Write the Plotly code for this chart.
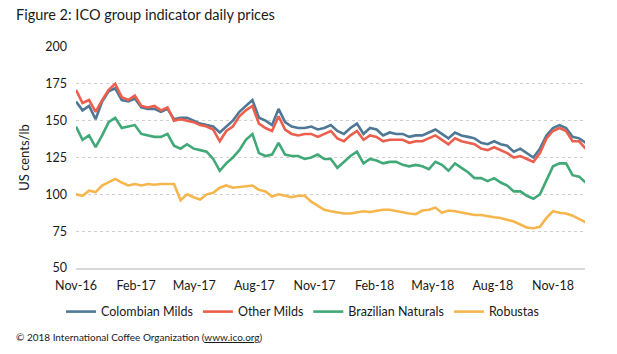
import pandas as pd
import plotly.graph_objects as go

# sample dates (every 10 days from Nov 2016)
dates = pd.date_range("2016-11-01", periods=79, freq="10D")

colombian_milds = [163, 157, 160, 151, 163, 170, 172, 164, 163, 165, 159, 158, 158, 156, 158, 151,
                   152, 152, 150, 148, 147, 146, 142, 146, 150, 156, 160, 164, 152, 150, 147, 158,
                   149, 146, 145, 145, 146, 144, 145, 147, 143, 141, 145, 148, 141, 145, 144, 140,
                   142, 141, 141, 139, 140, 140, 142, 144, 141, 138, 142, 140, 139, 138, 135, 134,
                   136, 134, 133, 129, 131, 128, 125, 131, 140, 145, 147, 145, 139, 138, 135]
other_milds = [171, 162, 164, 156, 164, 171, 175, 166, 164, 167, 160, 159, 160, 157, 159, 150,
               151, 150, 149, 147, 146, 144, 136, 143, 146, 153, 157, 160, 148, 145, 143, 153,
               144, 141, 140, 141, 141, 139, 141, 143, 138, 136, 140, 143, 137, 140, 139, 136,
               137, 137, 137, 135, 136, 136, 138, 140, 137, 134, 138, 136, 135, 134, 131, 130,
               132, 130, 128, 125, 126, 124, 122, 128, 138, 143, 145, 143, 136, 136, 131]
brazilian_naturals = [146, 137, 140, 132, 140, 149, 152, 145, 146, 147, 141, 140, 139, 139, 141, 133,
                      131, 134, 131, 130, 129, 124, 116, 121, 125, 130, 137, 141, 128, 126, 127, 135,
                      127, 126, 126, 124, 125, 127, 124, 124, 118, 122, 126, 129, 121, 124, 123, 121,
                      122, 122, 120, 119, 120, 119, 117, 122, 120, 116, 121, 118, 115, 111, 111, 109,
                      111, 108, 106, 102, 102, 99, 97, 100, 110, 119, 121, 121, 113, 112, 108]
robustas = [100, 99, 102.5, 101.5, 106, 108, 110.5, 108, 106, 107, 106, 107, 106.5, 107, 107, 107,
            96, 100, 98, 96.5, 100, 101, 104.5, 106, 104.5, 105, 105.5, 106, 103, 102, 98.5, 100,
            99, 98, 99, 99, 95, 92.5, 89.5, 88.5, 87.5, 87, 87, 88, 88.5, 88, 89, 89.5,
            89.5, 88.5, 88, 87, 86.5, 89, 89.5, 91, 87.5, 89, 88.5, 87.5, 87, 86, 86, 85,
            84.5, 84, 83, 81.5, 79.5, 77.5, 77, 78, 84, 88.5, 87.5, 87, 85.5, 83.5, 81]

series_names = ["Colombian Milds", "Other Milds", "Brazilian Naturals", "Robustas"]
series_values = [colombian_milds, other_milds, brazilian_naturals, robustas]
colors = ["#4F7896", "#EB5F4C", "#41A877", "#F6B64E"]

y_ticks = [50, 75, 100, 125, 150, 175, 200]

FONT = "Lato"

fig = go.Figure()
for name, vals, col in zip(series_names, series_values, colors):
    fig.add_trace(go.Scatter(x=dates, y=vals, mode="lines", name=name,
                             line=dict(color=col, width=2.6)))

fig.update_layout(
    width=617, height=354,
    margin=dict(l=76, r=32, t=47, b=86),
    paper_bgcolor="white", plot_bgcolor="white",
    font=dict(family=FONT, size=12, color="#1a1a1a"),
    showlegend=True,
    legend=dict(orientation="h", x=0.445, xanchor="center", y=-0.199, yanchor="middle",
                font=dict(size=12.5), itemwidth=30, traceorder="normal"),
    annotations=[
        dict(text="Figure 2: ICO group indicator daily prices", xref="paper", yref="paper",
             x=-0.122, y=1.145, xanchor="left", yanchor="middle", showarrow=False,
             font=dict(size=14.5, family=FONT)),
        dict(text="© 2018 International Coffee Organization (<u>www.ico.org</u>)", xref="paper",
             yref="paper", x=-0.122, y=-0.312, xanchor="left", yanchor="middle",
             showarrow=False, font=dict(size=10, family=FONT)),
    ],
)
fig.update_xaxes(
    type="date", range=["2016-11-01", "2018-12-20"],
    tick0="2016-11-01", dtick="M3", tickformat="%b-%y",
    showgrid=False, showline=True, linecolor="#D9D9D9", linewidth=1.5,
    ticks="", tickfont=dict(size=12.5), ticklabelstandoff=5,
)
fig.update_yaxes(
    range=[50, 200], tickvals=y_ticks, showgrid=True, gridcolor="#CFCFCF", griddash="dot",
    gridwidth=1, zeroline=False, showline=False, ticks="", tickfont=dict(size=12.5),
    ticklabelstandoff=8,
    title=dict(text="US cents/lb", font=dict(size=13), standoff=12),
)

fig.write_html("out.html")
